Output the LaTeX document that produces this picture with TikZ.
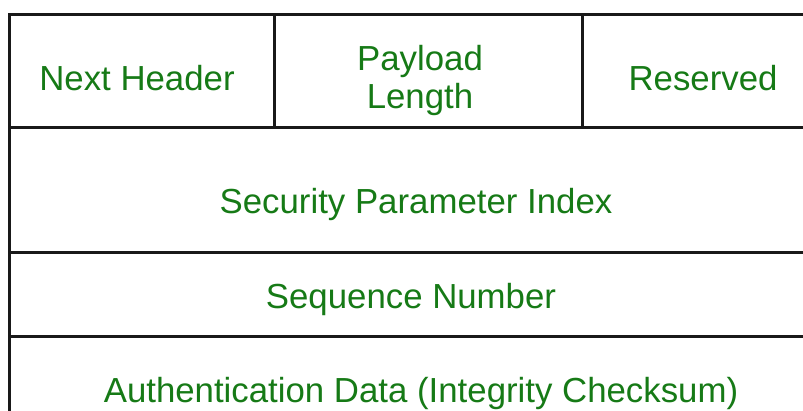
\documentclass[tikz,border=0pt]{standalone}
\usepackage{fontspec}
\setmainfont{Liberation Sans}
\usetikzlibrary{positioning}
\definecolor{fieldgreen}{RGB}{22,122,22}

\begin{document}
\begin{tikzpicture}[x=1pt, y=-1pt,
    field/.style={font=\fontsize{34.8}{40}\selectfont, text=fieldgreen,
                  anchor=base, inner sep=0pt},
    rule/.style={line width=3pt, draw=black!90},
]
\useasboundingbox (0,0) rectangle (803,410);

% frame corners (right and bottom edges lie outside the cut)
\coordinate (tl) at (9,14);
\coordinate (tr) at (815,14);
\coordinate (bl) at (9,430);
\coordinate (r1l) at (9,127);
\coordinate (r1r) at (815,127);
\coordinate (r2l) at (9,252);
\coordinate (r2r) at (815,252);
\coordinate (r3l) at (9,336);
\coordinate (r3r) at (815,336);
\coordinate (d1t) at (274,14);
\coordinate (d1b) at (274,127);
\coordinate (d2t) at (582,14);
\coordinate (d2b) at (582,127);

% rows and dividers
\draw[rule] (bl) -- (tl) -- (tr);
\draw[rule] (r1l) -- (r1r);
\draw[rule] (r2l) -- (r2r);
\draw[rule] (r3l) -- (r3r);
\draw[rule] (d1t) -- (d1b);
\draw[rule] (d2t) -- (d2b);

% header fields
\node[field] (nexthdr) at (137,90) {Next Header};
\node[field] (paylen) at (420,70) {Payload};
\node[field] (paylentwo) at (420,108) {Length};
\node[field] (reserved) at (703,90) {Reserved};

% full-width fields
\node[field] (spi) at (416,213) {Security Parameter Index};
\node[field] (seqnum) at (411,308) {Sequence Number};
\node[field] (authdata) at (421,402) {Authentication Data (Integrity Checksum)};

\end{tikzpicture}
\end{document}
